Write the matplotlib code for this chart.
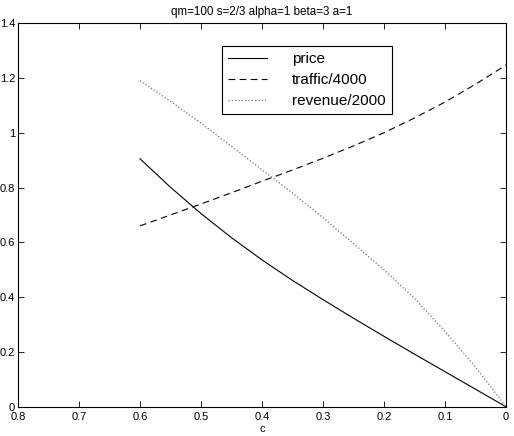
import numpy as np
import matplotlib
matplotlib.use("Agg")
import matplotlib.pyplot as plt

# values
c_vals = [0.6, 0.55, 0.5, 0.45, 0.4, 0.35, 0.3, 0.25, 0.2, 0.15, 0.1, 0.05, 0.0]
price = [0.905, 0.801, 0.705, 0.617, 0.536, 0.461, 0.391, 0.323, 0.257, 0.192, 0.128, 0.064, 0.0]
traffic = [0.66, 0.70, 0.74, 0.781, 0.823, 0.864, 0.907, 0.952, 1.0, 1.054, 1.112, 1.177, 1.247]
revenue = [1.19, 1.115, 1.035, 0.95, 0.865, 0.78, 0.69, 0.595, 0.5, 0.395, 0.275, 0.145, 0.0]

x_ticks = [0.8, 0.7, 0.6, 0.5, 0.4, 0.3, 0.2, 0.1, 0]
y_ticks = [0, 0.2, 0.4, 0.6, 0.8, 1, 1.2, 1.4]

plt.rcParams['font.family'] = ['Liberation Sans', 'DejaVu Sans']

fig = plt.figure(figsize=(5.14, 4.36), dpi=100)
ax = fig.add_axes([0.035, 0.067, 0.9495, 0.88])

ax.plot(c_vals, price, '-', color='black', lw=0.8, label='price')
ax.plot(c_vals, traffic, '--', color='black', lw=0.8, dashes=(6, 4), label='traffic/4000')
ax.plot(c_vals, revenue, ':', color='0.45', lw=0.9, label='revenue/2000')

ax.set_xlim(0.8, 0)
ax.set_ylim(0, 1.4)
ax.set_xticks(x_ticks)
ax.set_xticklabels(['0.8', '0.7', '0.6', '0.5', '0.4', '0.3', '0.2', '0.1', '0'])
ax.set_yticks(y_ticks)
ax.set_yticklabels(['0', '0.2', '0.4', '0.6', '0.8', '1', '1.2', '1.4'])
ax.tick_params(direction='in', top=True, right=True, labelsize=8, length=4, width=0.6, pad=2)
ax.tick_params(axis='x', pad=4)
for s in ax.spines.values():
    s.set_linewidth(0.8)

ax.set_xlabel('c', fontsize=8, labelpad=1)
ax.set_title('qm=100 s=2/3 alpha=1 beta=3 a=1', fontsize=8.4, pad=6)

leg = ax.legend(loc='upper left', bbox_to_anchor=(0.417, 0.940), borderaxespad=0,
                fontsize=11, fancybox=False, framealpha=1, edgecolor='black',
                handlelength=2.6, handletextpad=1.6, labelspacing=0.45,
                borderpad=0.4)
leg.get_frame().set_linewidth(0.8)

fig.savefig('out.png', dpi=100)
